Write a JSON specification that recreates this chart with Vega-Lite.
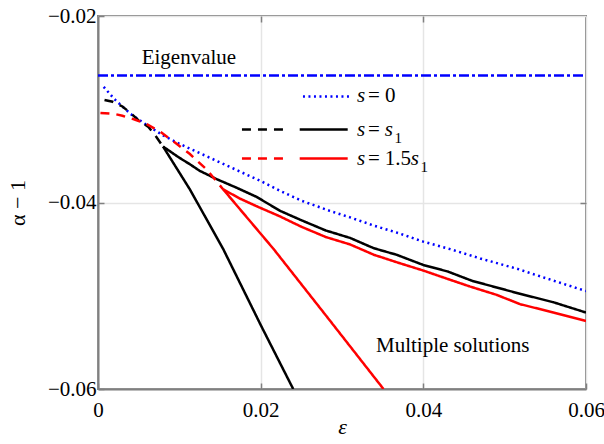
{
  "$schema": "https://vega.github.io/schema/vega-lite/v6.json",
  "width": 488,
  "height": 373,
  "autosize": {"type": "none"},
  "padding": {"left": 98, "top": 16, "right": 18, "bottom": 55},
  "background": "white",
  "config": {
    "view": {"stroke": "#808080", "strokeWidth": 2},
    "font": "Liberation Serif",
    "axis": {
      "gridColor": "#e5e5e5", "gridWidth": 1.5,
      "domainColor": "#808080", "domainWidth": 2,
      "tickColor": "#808080", "tickSize": -6, "tickWidth": 1.5,
      "labelFont": "Liberation Serif", "labelFontSize": 21, "labelColor": "#000000",
      "labelFlush": false, "labelOverlap": false,
      "titleFont": "Liberation Serif", "titleFontSize": 22,
      "titleFontWeight": "normal", "titleColor": "#000000"
    },
    "axisX": {"labelPadding": 16, "titlePadding": -4, "titleFontStyle": "italic"},
    "axisY": {"labelPadding": 8, "titlePadding": 18}
  },
  "resolve": {"axis": {"x": "independent", "y": "independent"}},
  "datasets": {
    "lines": [
      {"style": "eig", "seg": "eig", "x": 0, "y": -0.02638},
      {"style": "eig", "seg": "eig", "x": 0.06, "y": -0.02638},
      {"style": "s0", "seg": "s0", "x": 0.0007, "y": -0.0276},
      {"style": "s0", "seg": "s0", "x": 0.002, "y": -0.0289},
      {"style": "s0", "seg": "s0", "x": 0.004, "y": -0.0305},
      {"style": "s0", "seg": "s0", "x": 0.006, "y": -0.0317},
      {"style": "s0", "seg": "s0", "x": 0.008, "y": -0.0328},
      {"style": "s0", "seg": "s0", "x": 0.010, "y": -0.0337},
      {"style": "s0", "seg": "s0", "x": 0.0125, "y": -0.0347},
      {"style": "s0", "seg": "s0", "x": 0.015, "y": -0.0357},
      {"style": "s0", "seg": "s0", "x": 0.0175, "y": -0.0367},
      {"style": "s0", "seg": "s0", "x": 0.020, "y": -0.0377},
      {"style": "s0", "seg": "s0", "x": 0.0225, "y": -0.0388},
      {"style": "s0", "seg": "s0", "x": 0.025, "y": -0.0398},
      {"style": "s0", "seg": "s0", "x": 0.0285, "y": -0.0409},
      {"style": "s0", "seg": "s0", "x": 0.031, "y": -0.0416},
      {"style": "s0", "seg": "s0", "x": 0.034, "y": -0.0425},
      {"style": "s0", "seg": "s0", "x": 0.037, "y": -0.0433},
      {"style": "s0", "seg": "s0", "x": 0.040, "y": -0.0442},
      {"style": "s0", "seg": "s0", "x": 0.0433, "y": -0.0450},
      {"style": "s0", "seg": "s0", "x": 0.047, "y": -0.0460},
      {"style": "s0", "seg": "s0", "x": 0.0515, "y": -0.0471},
      {"style": "s0", "seg": "s0", "x": 0.055, "y": -0.0481},
      {"style": "s0", "seg": "s0", "x": 0.060, "y": -0.0495},
      {"style": "s1dash", "seg": "s1dash", "x": 0.0008, "y": -0.0290},
      {"style": "s1dash", "seg": "s1dash", "x": 0.0018, "y": -0.0292},
      {"style": "s1dash", "seg": "s1dash", "x": 0.003, "y": -0.0297},
      {"style": "s1dash", "seg": "s1dash", "x": 0.004, "y": -0.0304},
      {"style": "s1dash", "seg": "s1dash", "x": 0.005, "y": -0.0312},
      {"style": "s1dash", "seg": "s1dash", "x": 0.0062, "y": -0.0319},
      {"style": "s1dash", "seg": "s1dash", "x": 0.0072, "y": -0.0330},
      {"style": "s1dash", "seg": "s1dash", "x": 0.008, "y": -0.0340},
      {"style": "s1", "seg": "s1up", "x": 0.008, "y": -0.0340},
      {"style": "s1", "seg": "s1up", "x": 0.010, "y": -0.0352},
      {"style": "s1", "seg": "s1up", "x": 0.0113, "y": -0.0359},
      {"style": "s1", "seg": "s1up", "x": 0.0125, "y": -0.0366},
      {"style": "s1", "seg": "s1up", "x": 0.0146, "y": -0.0375},
      {"style": "s1", "seg": "s1up", "x": 0.0170, "y": -0.0384},
      {"style": "s1", "seg": "s1up", "x": 0.0195, "y": -0.0394},
      {"style": "s1", "seg": "s1up", "x": 0.0224, "y": -0.0409},
      {"style": "s1", "seg": "s1up", "x": 0.0250, "y": -0.0419},
      {"style": "s1", "seg": "s1up", "x": 0.0280, "y": -0.0430},
      {"style": "s1", "seg": "s1up", "x": 0.0310, "y": -0.0438},
      {"style": "s1", "seg": "s1up", "x": 0.0339, "y": -0.0449},
      {"style": "s1", "seg": "s1up", "x": 0.0367, "y": -0.0456},
      {"style": "s1", "seg": "s1up", "x": 0.0400, "y": -0.0467},
      {"style": "s1", "seg": "s1up", "x": 0.0430, "y": -0.0474},
      {"style": "s1", "seg": "s1up", "x": 0.0460, "y": -0.0484},
      {"style": "s1", "seg": "s1up", "x": 0.0515, "y": -0.0497},
      {"style": "s1", "seg": "s1up", "x": 0.0560, "y": -0.0507},
      {"style": "s1", "seg": "s1up", "x": 0.0600, "y": -0.0518},
      {"style": "s1", "seg": "s1low", "x": 0.008, "y": -0.0340},
      {"style": "s1", "seg": "s1low", "x": 0.0113, "y": -0.0386},
      {"style": "s1", "seg": "s1low", "x": 0.0154, "y": -0.0450},
      {"style": "s1", "seg": "s1low", "x": 0.0201, "y": -0.0533},
      {"style": "s1", "seg": "s1low", "x": 0.0240, "y": -0.0600},
      {"style": "s15dash", "seg": "s15dash", "x": 0.0003, "y": -0.0304},
      {"style": "s15dash", "seg": "s15dash", "x": 0.002, "y": -0.0305},
      {"style": "s15dash", "seg": "s15dash", "x": 0.003, "y": -0.0307},
      {"style": "s15dash", "seg": "s15dash", "x": 0.0045, "y": -0.0311},
      {"style": "s15dash", "seg": "s15dash", "x": 0.006, "y": -0.0316},
      {"style": "s15dash", "seg": "s15dash", "x": 0.0078, "y": -0.0325},
      {"style": "s15dash", "seg": "s15dash", "x": 0.0095, "y": -0.0336},
      {"style": "s15dash", "seg": "s15dash", "x": 0.0113, "y": -0.0348},
      {"style": "s15dash", "seg": "s15dash", "x": 0.0134, "y": -0.0365},
      {"style": "s15dash", "seg": "s15dash", "x": 0.0154, "y": -0.0386},
      {"style": "s15", "seg": "s15up", "x": 0.0154, "y": -0.0386},
      {"style": "s15", "seg": "s15up", "x": 0.0175, "y": -0.0396},
      {"style": "s15", "seg": "s15up", "x": 0.0195, "y": -0.0404},
      {"style": "s15", "seg": "s15up", "x": 0.0224, "y": -0.0415},
      {"style": "s15", "seg": "s15up", "x": 0.0250, "y": -0.0426},
      {"style": "s15", "seg": "s15up", "x": 0.0280, "y": -0.0437},
      {"style": "s15", "seg": "s15up", "x": 0.0310, "y": -0.0445},
      {"style": "s15", "seg": "s15up", "x": 0.0339, "y": -0.0456},
      {"style": "s15", "seg": "s15up", "x": 0.0367, "y": -0.0464},
      {"style": "s15", "seg": "s15up", "x": 0.0400, "y": -0.0473},
      {"style": "s15", "seg": "s15up", "x": 0.0430, "y": -0.0482},
      {"style": "s15", "seg": "s15up", "x": 0.0457, "y": -0.0490},
      {"style": "s15", "seg": "s15up", "x": 0.0490, "y": -0.0499},
      {"style": "s15", "seg": "s15up", "x": 0.0519, "y": -0.0509},
      {"style": "s15", "seg": "s15up", "x": 0.0560, "y": -0.0518},
      {"style": "s15", "seg": "s15up", "x": 0.0600, "y": -0.0527},
      {"style": "s15", "seg": "s15low", "x": 0.0154, "y": -0.0386},
      {"style": "s15", "seg": "s15low", "x": 0.0216, "y": -0.0450},
      {"style": "s15", "seg": "s15low", "x": 0.0281, "y": -0.0522},
      {"style": "s15", "seg": "s15low", "x": 0.0351, "y": -0.0600},
      {"style": "s0", "seg": "leg_s0", "x": 0.0252, "y": -0.02863},
      {"style": "s0", "seg": "leg_s0", "x": 0.0310, "y": -0.02863},
      {"style": "s1dash", "seg": "leg_s1dash", "x": 0.0177, "y": -0.03217},
      {"style": "s1dash", "seg": "leg_s1dash", "x": 0.0236, "y": -0.03217},
      {"style": "s1", "seg": "leg_s1", "x": 0.0248, "y": -0.03217},
      {"style": "s1", "seg": "leg_s1", "x": 0.0307, "y": -0.03217},
      {"style": "s15dash", "seg": "leg_s15dash", "x": 0.0177, "y": -0.03528},
      {"style": "s15dash", "seg": "leg_s15dash", "x": 0.0236, "y": -0.03528},
      {"style": "s15", "seg": "leg_s15", "x": 0.0248, "y": -0.03528},
      {"style": "s15", "seg": "leg_s15", "x": 0.0307, "y": -0.03528}
    ],
    "labels": [
      {"t": "Eigenvalue", "kind": "rm", "x": 0.00537, "y": -0.0252},
      {"t": "Multiple solutions", "kind": "rm", "x": 0.03418, "y": -0.05598},
      {"t": "s", "kind": "it", "x": 0.03185, "y": -0.02924},
      {"t": "= 0", "kind": "rm", "x": 0.03320, "y": -0.02924},
      {"t": "s", "kind": "it", "x": 0.03185, "y": -0.03289},
      {"t": "=", "kind": "rm", "x": 0.03320, "y": -0.03289},
      {"t": "s", "kind": "it", "x": 0.03525, "y": -0.03289},
      {"t": "1", "kind": "sub", "x": 0.03645, "y": -0.03289},
      {"t": "s", "kind": "it", "x": 0.03185, "y": -0.0360},
      {"t": "=", "kind": "rm", "x": 0.03320, "y": -0.0360},
      {"t": "1.5", "kind": "rm", "x": 0.03525, "y": -0.0360},
      {"t": "s", "kind": "it", "x": 0.03845, "y": -0.0360},
      {"t": "1", "kind": "sub", "x": 0.03965, "y": -0.0360}
    ]
  },
  "layer": [
    {
      "data": {"name": "lines"},
      "mark": {"type": "line", "strokeWidth": 2.5, "clip": true},
      "encoding": {
        "x": {
          "field": "x", "type": "quantitative",
          "scale": {"domain": [0, 0.06], "nice": false, "zero": false},
          "axis": {"orient": "bottom", "values": [0, 0.02, 0.04, 0.06], "labelExpr": "format(datum.value, '~g')", "title": "ε", "grid": true}
        },
        "y": {
          "field": "y", "type": "quantitative",
          "scale": {"domain": [-0.06, -0.02], "nice": false, "zero": false},
          "axis": {"orient": "left", "values": [-0.06, -0.04, -0.02], "labelExpr": "datum.value < 0 ? '\u2212' + format(-datum.value, '~g') : format(datum.value, '~g')", "title": "α − 1", "grid": true}
        },
        "detail": {"field": "seg", "type": "nominal"},
        "color": {
          "field": "style", "type": "nominal", "legend": null,
          "scale": {
            "domain": ["eig", "s0", "s1dash", "s1", "s15dash", "s15"],
            "range": ["#0000ff", "#0000ff", "#000000", "#000000", "#ff0000", "#ff0000"]
          }
        },
        "strokeDash": {
          "field": "style", "type": "nominal", "legend": null,
          "scale": {
            "domain": ["eig", "s0", "s1dash", "s1", "s15dash", "s15"],
            "range": [[10, 3, 3, 3], [2, 3.5], [9, 7], [1, 0], [9, 7], [1, 0]]
          }
        }
      }
    },
    {
      "data": {"name": "lines"},
      "mark": {"type": "line", "opacity": 0},
      "encoding": {
        "x": {
          "field": "x", "type": "quantitative",
          "axis": {"orient": "top", "values": [0.02, 0.04], "labels": false, "title": null, "grid": false, "domain": false}
        },
        "y": {
          "field": "y", "type": "quantitative",
          "axis": {"orient": "right", "values": [-0.04], "labels": false, "title": null, "grid": false, "domain": false}
        },
        "detail": {"field": "seg", "type": "nominal"}
      }
    },
    {
      "data": {"name": "labels"},
      "transform": [{"filter": "datum.kind == 'rm'"}],
      "mark": {"type": "text", "font": "Liberation Serif", "fontSize": 21, "align": "left", "baseline": "alphabetic", "color": "#000000"},
      "encoding": {
        "x": {"field": "x", "type": "quantitative", "axis": null},
        "y": {"field": "y", "type": "quantitative", "axis": null},
        "text": {"field": "t"}
      }
    },
    {
      "data": {"name": "labels"},
      "transform": [{"filter": "datum.kind == 'it'"}],
      "mark": {"type": "text", "font": "Liberation Serif", "fontSize": 21, "fontStyle": "italic", "align": "left", "baseline": "alphabetic", "color": "#000000"},
      "encoding": {
        "x": {"field": "x", "type": "quantitative", "axis": null},
        "y": {"field": "y", "type": "quantitative", "axis": null},
        "text": {"field": "t"}
      }
    },
    {
      "data": {"name": "labels"},
      "transform": [{"filter": "datum.kind == 'sub'"}],
      "mark": {"type": "text", "font": "Liberation Serif", "fontSize": 15, "align": "left", "baseline": "alphabetic", "dy": 7, "color": "#000000"},
      "encoding": {
        "x": {"field": "x", "type": "quantitative", "axis": null},
        "y": {"field": "y", "type": "quantitative", "axis": null},
        "text": {"field": "t"}
      }
    }
  ]
}
